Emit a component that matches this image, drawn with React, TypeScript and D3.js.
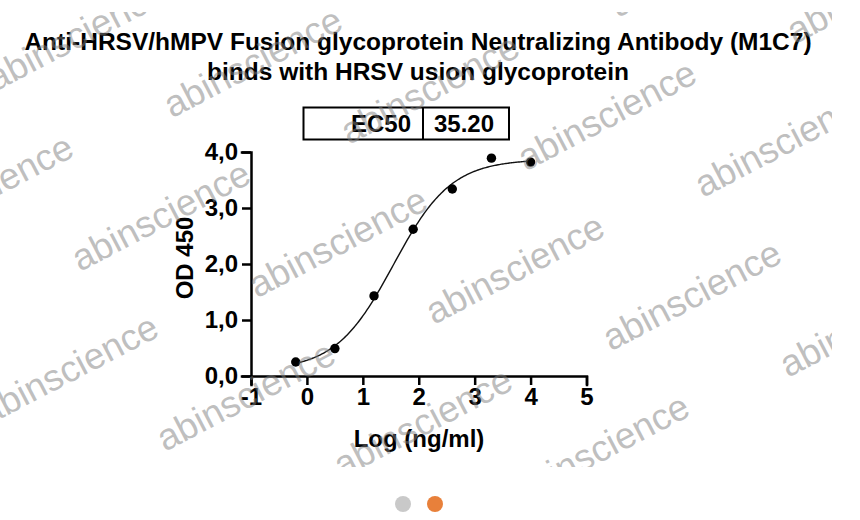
import { useEffect, useRef } from 'react';
import * as d3 from 'd3';

// dose-response data
const logConc = [-0.2, 0.5, 1.2, 1.9, 2.6, 3.3, 4.0];
const od450 = [0.25, 0.49, 1.43, 2.62, 3.34, 3.89, 3.82];
const xTicks = [-1, 0, 1, 2, 3, 4, 5];
const yTicks = [0, 1, 2, 3, 4];

// 4PL fit shown in the figure
const fitBottom = 0.1;
const fitTop = 3.87;
const ec50 = 35.2;
const hillSlope = 0.84;

const titleLines = [
  'Anti-HRSV/hMPV Fusion glycoprotein Neutralizing Antibody (M1C7)',
  'binds with HRSV usion glycoprotein',
];

const FONT = '"Liberation Sans", Arial, Helvetica, sans-serif';

const App = () => {
  const svgRef = useRef<SVGSVGElement>(null);

  useEffect(() => {
    const width = 860;
    const height = 520;
    const svg = d3.select(svgRef.current)
      .attr('width', width)
      .attr('height', height)
      .style('font-family', FONT);

    svg.selectAll('*').remove();

    svg.append('rect').attr('width', width).attr('height', height).attr('fill', '#ffffff');

    // plot area
    const x = d3.scaleLinear().domain([-1, 5]).range([251, 586.5]);
    const y = d3.scaleLinear().domain([0, 4]).range([376, 152]);

    // title
    svg.append('g')
      .selectAll('text')
      .data(titleLines)
      .enter()
      .append('text')
      .attr('x', 418)
      .attr('y', (d, i) => 50 + i * 30)
      .attr('text-anchor', 'middle')
      .style('font-size', '24.5px')
      .style('font-weight', 'bold')
      .text(d => d);

    // EC50 box
    const box = svg.append('g');
    box.append('rect')
      .attr('x', 303.5).attr('y', 107.5)
      .attr('width', 205.5).attr('height', 32)
      .attr('fill', 'none').attr('stroke', '#000').attr('stroke-width', 2);
    box.append('line')
      .attr('x1', 423).attr('x2', 423).attr('y1', 107.5).attr('y2', 139.5)
      .attr('stroke', '#000').attr('stroke-width', 2);
    box.append('text')
      .attr('x', 411).attr('y', 131.5)
      .attr('text-anchor', 'end')
      .style('font-size', '24px').style('font-weight', 'bold')
      .text('EC50');
    box.append('text')
      .attr('x', 434).attr('y', 131.5)
      .style('font-size', '24px').style('font-weight', 'bold')
      .text(ec50.toFixed(2));

    // Y axis
    const yAxis = svg.append('g')
      .attr('transform', 'translate(251,0)')
      .call(d3.axisLeft(y).tickValues(yTicks).tickSize(9).tickPadding(4)
        .tickFormat(d => (d as number).toFixed(1).replace('.', ',')));
    yAxis.select('.domain').attr('stroke-width', 2.5);
    yAxis.selectAll('.tick line').attr('stroke-width', 2.5);
    yAxis.selectAll('.tick text')
      .style('font-size', '24px').style('font-weight', 'bold')
      .style('font-family', FONT).attr('fill', '#000');

    // X axis
    const xAxis = svg.append('g')
      .attr('transform', 'translate(0,376)')
      .call(d3.axisBottom(x).tickValues(xTicks).tickSize(9).tickPadding(3)
        .tickFormat(d => String(d)));
    xAxis.select('.domain').attr('stroke-width', 2.5);
    xAxis.selectAll('.tick line').attr('stroke-width', 2.5);
    xAxis.selectAll('.tick text')
      .style('font-size', '24px').style('font-weight', 'bold')
      .style('font-family', FONT).attr('fill', '#000');
    svg.selectAll('.domain').attr('stroke-linecap', 'square');

    // axis titles
    svg.append('text')
      .attr('x', 419).attr('y', 447)
      .attr('text-anchor', 'middle')
      .style('font-size', '24px').style('font-weight', 'bold')
      .text('Log (ng/ml)');
    svg.append('text')
      .attr('transform', 'translate(193,258)rotate(-90)')
      .attr('text-anchor', 'middle')
      .style('font-size', '24px').style('font-weight', 'bold')
      .text('OD 450');

    // fitted curve
    const logEc50 = Math.log10(ec50);
    const fit = (v: number) => fitBottom + (fitTop - fitBottom) / (1 + Math.pow(10, (logEc50 - v) * hillSlope));
    const xs = d3.range(logConc[0], logConc[logConc.length - 1] + 0.001, 0.02);
    const line = d3.line<number>().x(v => x(v)).y(v => y(fit(v)));
    svg.append('path')
      .datum(xs)
      .attr('d', line)
      .attr('fill', 'none')
      .attr('stroke', '#111')
      .attr('stroke-width', 1.4);

    // data points
    svg.selectAll('.pt')
      .data(logConc)
      .enter()
      .append('circle')
      .attr('class', 'pt')
      .attr('cx', d => x(d))
      .attr('cy', (d, i) => y(od450[i]))
      .attr('r', 4.7)
      .attr('fill', '#000');

    // watermark lattice
    svg.append('clipPath').attr('id', 'wm-clip')
      .append('rect').attr('x', 0).attr('y', 12).attr('width', 832).attr('height', 455);
    const marks: [number, number][] = [];
    for (let i = -1; i <= 2; i++) {
      for (let j = -2; j <= 6; j++) {
        if (i === 2 && j >= 3) continue;
        marks.push([-5 + 177 * j + 85 * i, 92 + 26.5 * j + 180 * i]);
      }
    }
    svg.append('g')
      .attr('clip-path', 'url(#wm-clip)')
      .selectAll('text')
      .data(marks)
      .enter()
      .append('text')
      .attr('transform', d => `translate(${d[0]},${d[1]})rotate(-27.5)`)
      .style('font-size', '37px')
      .attr('fill', '#808080')
      .attr('fill-opacity', 0.5)
      .text('abinscience');

    // carousel dots
    svg.append('circle').attr('cx', 403).attr('cy', 504).attr('r', 8).attr('fill', '#c9c9c9');
    svg.append('circle').attr('cx', 435).attr('cy', 504).attr('r', 8).attr('fill', '#e8803a');
  }, []);

  return (
    <svg ref={svgRef} style={{ position: 'absolute', left: 0, top: 0, display: 'block' }}></svg>
  );
};

export default App;
